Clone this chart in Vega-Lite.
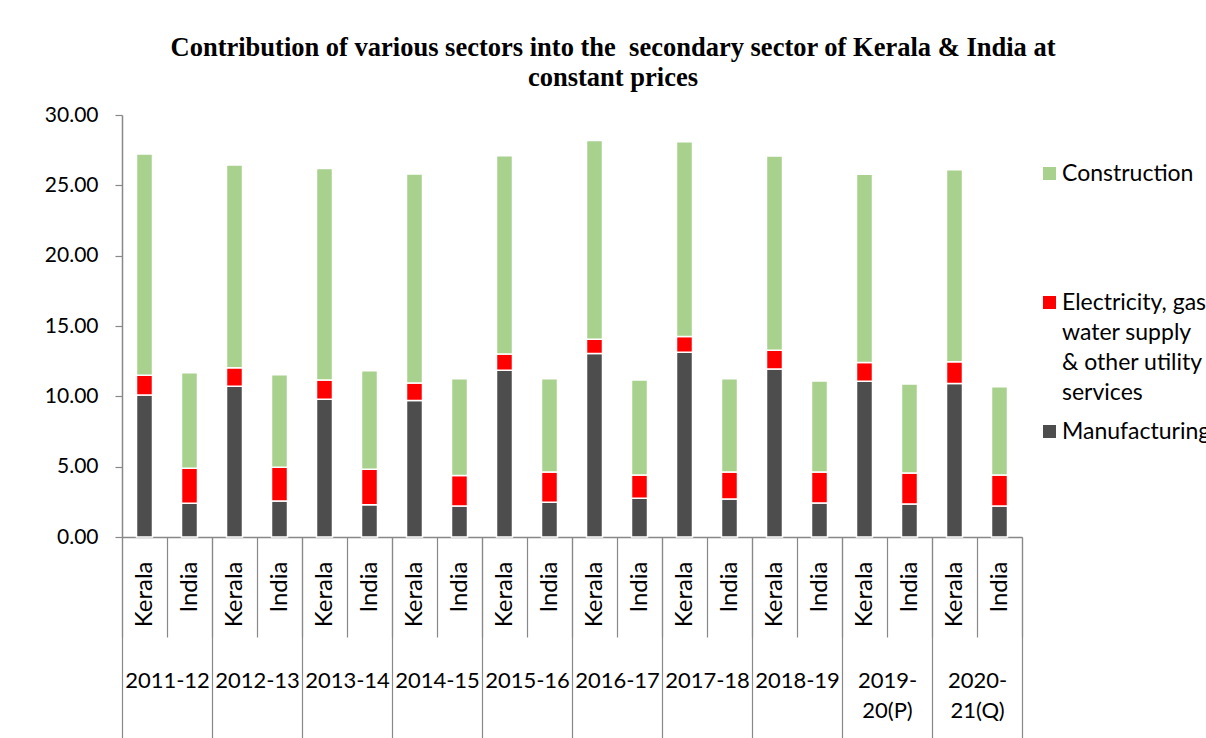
{
  "$schema": "https://vega.github.io/schema/vega-lite/v6.json",
  "autosize": "none",
  "width": 900,
  "height": 422,
  "padding": {"left": 122, "top": 115, "right": 184, "bottom": 201},
  "background": "white",
  "title": {
    "text": ["Contribution of various sectors into the \u00a0secondary sector of Kerala & India at", "constant prices"],
    "font": "Liberation Serif", "fontSize": 26.5, "fontWeight": "bold", "color": "black",
    "lineHeight": 30, "anchor": "middle", "dx": 41, "offset": 13
  },
  "config": {
    "view": {"stroke": null},
    "style": {"guide-label": {"lineHeight": 30}},
    "axis": {"labelFont": "Lato", "labelColor": "black", "domainColor": "#888888", "tickColor": "#888888", "domainWidth": 1.5, "tickWidth": 1.2}
  },
  "data": {"values": [
    {"year": "2011-12", "region": "Kerala", "bar": "2011-12 Kerala", "sector": "Manufacturing", "value": 10.09},
    {"year": "2011-12", "region": "Kerala", "bar": "2011-12 Kerala", "sector": "Electricity, gas water supply & other utility services", "value": 1.40},
    {"year": "2011-12", "region": "Kerala", "bar": "2011-12 Kerala", "sector": "Construction", "value": 15.73},
    {"year": "2011-12", "region": "India", "bar": "2011-12 India", "sector": "Manufacturing", "value": 2.40},
    {"year": "2011-12", "region": "India", "bar": "2011-12 India", "sector": "Electricity, gas water supply & other utility services", "value": 2.48},
    {"year": "2011-12", "region": "India", "bar": "2011-12 India", "sector": "Construction", "value": 6.80},
    {"year": "2012-13", "region": "Kerala", "bar": "2012-13 Kerala", "sector": "Manufacturing", "value": 10.71},
    {"year": "2012-13", "region": "Kerala", "bar": "2012-13 Kerala", "sector": "Electricity, gas water supply & other utility services", "value": 1.32},
    {"year": "2012-13", "region": "Kerala", "bar": "2012-13 Kerala", "sector": "Construction", "value": 14.41},
    {"year": "2012-13", "region": "India", "bar": "2012-13 India", "sector": "Manufacturing", "value": 2.56},
    {"year": "2012-13", "region": "India", "bar": "2012-13 India", "sector": "Electricity, gas water supply & other utility services", "value": 2.39},
    {"year": "2012-13", "region": "India", "bar": "2012-13 India", "sector": "Construction", "value": 6.59},
    {"year": "2013-14", "region": "Kerala", "bar": "2013-14 Kerala", "sector": "Manufacturing", "value": 9.79},
    {"year": "2013-14", "region": "Kerala", "bar": "2013-14 Kerala", "sector": "Electricity, gas water supply & other utility services", "value": 1.37},
    {"year": "2013-14", "region": "Kerala", "bar": "2013-14 Kerala", "sector": "Construction", "value": 15.04},
    {"year": "2013-14", "region": "India", "bar": "2013-14 India", "sector": "Manufacturing", "value": 2.30},
    {"year": "2013-14", "region": "India", "bar": "2013-14 India", "sector": "Electricity, gas water supply & other utility services", "value": 2.51},
    {"year": "2013-14", "region": "India", "bar": "2013-14 India", "sector": "Construction", "value": 7.01},
    {"year": "2014-15", "region": "Kerala", "bar": "2014-15 Kerala", "sector": "Manufacturing", "value": 9.71},
    {"year": "2014-15", "region": "Kerala", "bar": "2014-15 Kerala", "sector": "Electricity, gas water supply & other utility services", "value": 1.24},
    {"year": "2014-15", "region": "Kerala", "bar": "2014-15 Kerala", "sector": "Construction", "value": 14.85},
    {"year": "2014-15", "region": "India", "bar": "2014-15 India", "sector": "Manufacturing", "value": 2.20},
    {"year": "2014-15", "region": "India", "bar": "2014-15 India", "sector": "Electricity, gas water supply & other utility services", "value": 2.18},
    {"year": "2014-15", "region": "India", "bar": "2014-15 India", "sector": "Construction", "value": 6.87},
    {"year": "2015-16", "region": "Kerala", "bar": "2015-16 Kerala", "sector": "Manufacturing", "value": 11.85},
    {"year": "2015-16", "region": "Kerala", "bar": "2015-16 Kerala", "sector": "Electricity, gas water supply & other utility services", "value": 1.16},
    {"year": "2015-16", "region": "Kerala", "bar": "2015-16 Kerala", "sector": "Construction", "value": 14.09},
    {"year": "2015-16", "region": "India", "bar": "2015-16 India", "sector": "Manufacturing", "value": 2.47},
    {"year": "2015-16", "region": "India", "bar": "2015-16 India", "sector": "Electricity, gas water supply & other utility services", "value": 2.15},
    {"year": "2015-16", "region": "India", "bar": "2015-16 India", "sector": "Construction", "value": 6.63},
    {"year": "2016-17", "region": "Kerala", "bar": "2016-17 Kerala", "sector": "Manufacturing", "value": 13.05},
    {"year": "2016-17", "region": "Kerala", "bar": "2016-17 Kerala", "sector": "Electricity, gas water supply & other utility services", "value": 1.00},
    {"year": "2016-17", "region": "Kerala", "bar": "2016-17 Kerala", "sector": "Construction", "value": 14.14},
    {"year": "2016-17", "region": "India", "bar": "2016-17 India", "sector": "Manufacturing", "value": 2.75},
    {"year": "2016-17", "region": "India", "bar": "2016-17 India", "sector": "Electricity, gas water supply & other utility services", "value": 1.66},
    {"year": "2016-17", "region": "India", "bar": "2016-17 India", "sector": "Construction", "value": 6.75},
    {"year": "2017-18", "region": "Kerala", "bar": "2017-18 Kerala", "sector": "Manufacturing", "value": 13.13},
    {"year": "2017-18", "region": "Kerala", "bar": "2017-18 Kerala", "sector": "Electricity, gas water supply & other utility services", "value": 1.13},
    {"year": "2017-18", "region": "Kerala", "bar": "2017-18 Kerala", "sector": "Construction", "value": 13.84},
    {"year": "2017-18", "region": "India", "bar": "2017-18 India", "sector": "Manufacturing", "value": 2.70},
    {"year": "2017-18", "region": "India", "bar": "2017-18 India", "sector": "Electricity, gas water supply & other utility services", "value": 1.92},
    {"year": "2017-18", "region": "India", "bar": "2017-18 India", "sector": "Construction", "value": 6.63},
    {"year": "2018-19", "region": "Kerala", "bar": "2018-19 Kerala", "sector": "Manufacturing", "value": 11.94},
    {"year": "2018-19", "region": "Kerala", "bar": "2018-19 Kerala", "sector": "Electricity, gas water supply & other utility services", "value": 1.33},
    {"year": "2018-19", "region": "Kerala", "bar": "2018-19 Kerala", "sector": "Construction", "value": 13.81},
    {"year": "2018-19", "region": "India", "bar": "2018-19 India", "sector": "Manufacturing", "value": 2.42},
    {"year": "2018-19", "region": "India", "bar": "2018-19 India", "sector": "Electricity, gas water supply & other utility services", "value": 2.20},
    {"year": "2018-19", "region": "India", "bar": "2018-19 India", "sector": "Construction", "value": 6.47},
    {"year": "2019-20(P)", "region": "Kerala", "bar": "2019-20(P) Kerala", "sector": "Manufacturing", "value": 11.07},
    {"year": "2019-20(P)", "region": "Kerala", "bar": "2019-20(P) Kerala", "sector": "Electricity, gas water supply & other utility services", "value": 1.34},
    {"year": "2019-20(P)", "region": "Kerala", "bar": "2019-20(P) Kerala", "sector": "Construction", "value": 13.37},
    {"year": "2019-20(P)", "region": "India", "bar": "2019-20(P) India", "sector": "Manufacturing", "value": 2.35},
    {"year": "2019-20(P)", "region": "India", "bar": "2019-20(P) India", "sector": "Electricity, gas water supply & other utility services", "value": 2.20},
    {"year": "2019-20(P)", "region": "India", "bar": "2019-20(P) India", "sector": "Construction", "value": 6.32},
    {"year": "2020-21(Q)", "region": "Kerala", "bar": "2020-21(Q) Kerala", "sector": "Manufacturing", "value": 10.92},
    {"year": "2020-21(Q)", "region": "Kerala", "bar": "2020-21(Q) Kerala", "sector": "Electricity, gas water supply & other utility services", "value": 1.54},
    {"year": "2020-21(Q)", "region": "Kerala", "bar": "2020-21(Q) Kerala", "sector": "Construction", "value": 13.65},
    {"year": "2020-21(Q)", "region": "India", "bar": "2020-21(Q) India", "sector": "Manufacturing", "value": 2.20},
    {"year": "2020-21(Q)", "region": "India", "bar": "2020-21(Q) India", "sector": "Electricity, gas water supply & other utility services", "value": 2.21},
    {"year": "2020-21(Q)", "region": "India", "bar": "2020-21(Q) India", "sector": "Construction", "value": 6.27}
  ]},
  "layer": [
    {
      "mark": {"type": "bar", "width": 16, "stroke": "white", "strokeWidth": 1.5},
      "encoding": {
        "x": {
          "field": "bar", "type": "nominal", "sort": null,
          "scale": {"paddingInner": 0, "paddingOuter": 0},
          "axis": {
            "orient": "bottom", "title": null, "tickBand": "extent", "tickSize": 100,
            "labelAngle": -90, "labelPadding": -76, "labelExpr": "split(datum.label, ' ')[1]",
            "labelFontSize": 24, "labelOverlap": false
          }
        },
        "y": {
          "field": "value", "type": "quantitative", "stack": "zero",
          "scale": {"domain": [0, 30], "nice": false},
          "axis": {
            "title": null, "values": [0, 5, 10, 15, 20, 25, 30], "format": ".2f",
            "tickSize": 7, "labelPadding": 17, "labelFontSize": 21, "grid": false
          }
        },
        "color": {
          "field": "sector", "type": "nominal",
          "scale": {
            "domain": ["Construction", "Electricity, gas water supply & other utility services", "Manufacturing"],
            "range": ["#A9D18E", "#FF0000", "#4D4D4D"]
          },
          "legend": {
            "orient": "none", "legendX": 916, "legendY": 47, "title": null,
            "symbolType": "square", "symbolSize": 170, "symbolStrokeWidth": 0,
            "labelFont": "Lato", "labelFontSize": 23, "labelColor": "black", "labelLimit": 500,
            "labelOffset": 1, "rowPadding": 15,
            "labelExpr": "datum.label == 'Construction' ? ['Construction', '', '', ''] : datum.label == 'Manufacturing' ? 'Manufacturing' : ['Electricity, gas', '\u00a0water supply', '& other utility', 'services']"
          }
        },
        "order": {"field": "sector", "sort": "descending"}
      }
    },
    {
      "mark": {"type": "rule", "opacity": 0},
      "encoding": {
        "x": {
          "field": "year", "type": "nominal",
          "scale": {"paddingInner": 0, "paddingOuter": 0},
          "axis": {
            "orient": "bottom", "title": null, "tickBand": "extent", "tickSize": 201, "domain": false,
            "labelAngle": 0, "labelBaseline": "middle", "labelPadding": -58,
            "labelExpr": "datum.label == '2019-20(P)' ? ['2019-', '20(P)'] : datum.label == '2020-21(Q)' ? ['2020-', '21(Q)'] : datum.label",
            "labelFontSize": 22, "labelLineHeight": 30, "labelOverlap": false
          }
        }
      }
    }
  ],
  "resolve": {"scale": {"x": "independent"}}
}
